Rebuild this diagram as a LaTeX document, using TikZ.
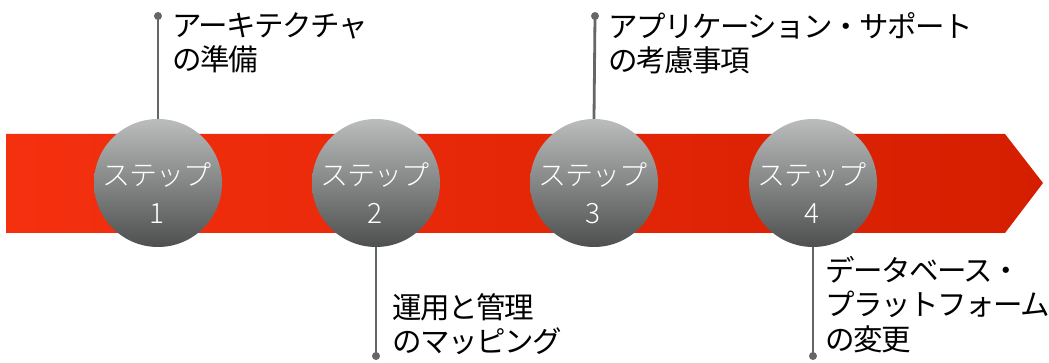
\documentclass[tikz,border=0pt]{standalone}
\usepackage{fontspec}
\newfontfamily\jp{Noto Sans CJK JP}
\newfontfamily\jpt[LetterSpace=-5]{Noto Sans CJK JP}
\newfontfamily\jpl[LetterSpace=-3]{Noto Sans CJK JP Light}
\usetikzlibrary{shadings}
\definecolor{bandL}{HTML}{F4300F}
\definecolor{bandR}{HTML}{D51E00}
\definecolor{ballT}{HTML}{BBBDBD}
\definecolor{ballB}{HTML}{4E5050}
\definecolor{stem}{HTML}{666666}
\tikzset{
  ball/.style={circle, minimum size=128pt, inner sep=0pt, top color=ballT, bottom color=ballB, draw=none},
  balltext/.style={text=white, inner sep=0pt, font=\jpl\fontsize{28}{38}\selectfont, align=center},
  lbl/.style={anchor=north west, inner sep=0pt, align=left, text=black, font=\jpt\fontsize{29.5}{34.5}\selectfont},
  stemline/.style={draw=stem, line width=2.8pt},
  dot/.style={circle, fill=stem, inner sep=0pt, minimum size=8pt}
}
\begin{document}
\begin{tikzpicture}[x=1pt,y=-1pt]
\useasboundingbox (0,0) rectangle (1049,363);
% band
\shade[left color=bandL, right color=bandR] (6,134) -- (1005,134) -- (1043,183) -- (1005,233) -- (6,233) -- cycle;
% dots
\node[dot] (d1) at (158,16) {};
\node[dot] (d2) at (376,356) {};
\node[dot] (d3) at (595,16) {};
\node[dot] (d4) at (813,356) {};
% balls
\node[ball] (s1) at (158,183) {};
\node[ball] (s2) at (376,183) {};
\node[ball] (s3) at (594,183) {};
\node[ball] (s4) at (813,183) {};
\node[balltext] (s1t) at (157,193) {ステップ\\1};
\node[balltext] (s2t) at (375,193) {ステップ\\2};
\node[balltext] (s3t) at (593,193) {ステップ\\3};
\node[balltext] (s4t) at (812,193) {ステップ\\4};
\draw[stemline] (d1.center) -- (s1.north);
\draw[stemline] (d2.center) -- (s2.south);
\draw[stemline] (d3.center) -- (s3.north);
\draw[stemline] (d4.center) -- (s4.south);
% labels
\node[lbl] (t1) at (172,12) {アーキテクチャ\\の準備};
\node[lbl] (t2) at (392,293) {運用と管理\\のマッピング};
\node[lbl] (t3) at (608,12) {アプリケーション・サポート\\の考慮事項};
\node[lbl] (t4) at (825,256) {データベース・\\プラットフォーム\\の変更};
\end{tikzpicture}
\end{document}
